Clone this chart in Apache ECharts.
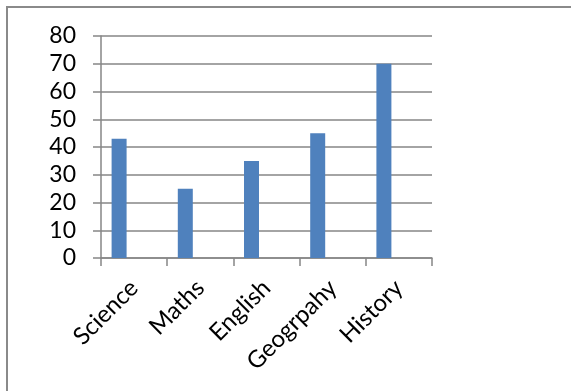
<!DOCTYPE html>
<html>
<head>
<meta charset="utf-8">
<script src="https://cdn.jsdelivr.net/npm/echarts@6/dist/echarts.min.js"></script>
<style>
  html, body { margin: 0; padding: 0; background: #fff; }
  #chart { width: 571px; height: 391px; }
</style>
</head>
<body>
<div id="chart"></div>
<script>
// subjects and marks
var subjects = ['Science', 'Maths', 'English', 'Geogrpahy', 'History'];
var marks = [43, 25, 35, 45, 70];
var emptySeries = [null, null, null, null, null];

var axisGrey = '#868686';
var fontName = 'Lato, "Open Sans", sans-serif';

var chart = echarts.init(document.getElementById('chart'));

chart.setOption({
    animation: false,
    backgroundColor: '#fff',
    graphic: [{
        type: 'rect',
        shape: { x: 7, y: 7, width: 580, height: 420 },
        style: { fill: 'none', stroke: '#8a8a8a', lineWidth: 2 }
    }],
    grid: {
        left: 101,
        top: 36,
        width: 331,
        height: 222
    },
    xAxis: {
        type: 'category',
        data: subjects,
        axisLine: { lineStyle: { color: axisGrey, width: 1.5 } },
        axisTick: { show: true, length: 8, lineStyle: { color: axisGrey, width: 1.5 } },
        axisLabel: {
            rotate: 45,
            margin: 26,
            color: '#000',
            fontSize: 24,
            fontFamily: fontName
        }
    },
    yAxis: {
        type: 'value',
        min: 0,
        max: 80,
        interval: 10,
        axisLine: { show: true, lineStyle: { color: axisGrey, width: 1.5 } },
        axisTick: { show: true, length: 8, lineStyle: { color: axisGrey, width: 1.5 } },
        splitLine: { lineStyle: { color: axisGrey, width: 1.5 } },
        axisLabel: {
            margin: 25,
            color: '#000',
            fontSize: 23,
            fontFamily: fontName
        }
    },
    series: [{
        type: 'bar',
        data: marks,
        barWidth: 15,
        barGap: '100%',
        itemStyle: { color: '#4F81BD' }
    }, {
        type: 'bar',
        data: emptySeries,
        barWidth: 15
    }]
});
</script>
</body>
</html>
